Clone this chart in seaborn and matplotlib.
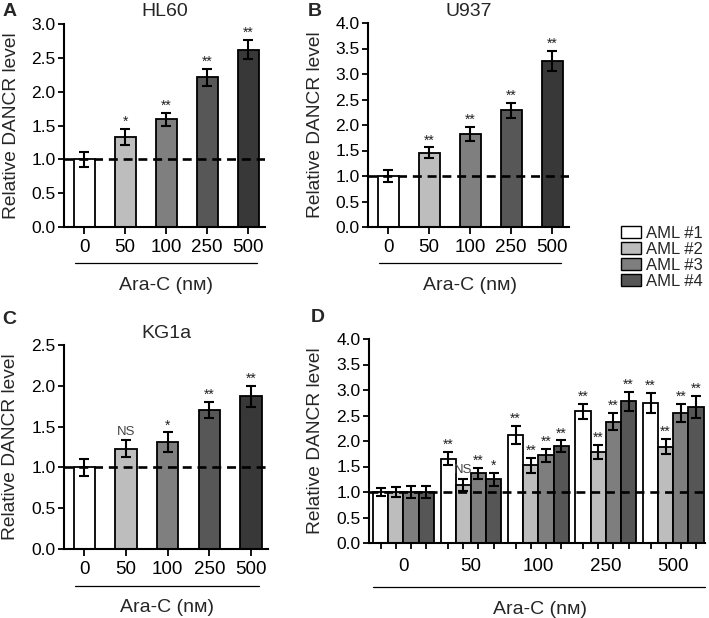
import numpy as np
import pandas as pd
import matplotlib
matplotlib.use("Agg")
import matplotlib.pyplot as plt
import seaborn as sns
from matplotlib.patches import Patch
from matplotlib.lines import Line2D

# ---------------- data ----------------
conc = ["0", "50", "100", "250", "500"]

hl60_mean = [1.00, 1.33, 1.59, 2.21, 2.62]
hl60_sd = [0.11, 0.12, 0.10, 0.13, 0.14]
hl60_sig = ["", "*", "**", "**", "**"]

u937_mean = [1.00, 1.46, 1.82, 2.29, 3.25]
u937_sd = [0.12, 0.10, 0.14, 0.15, 0.20]
u937_sig = ["", "**", "**", "**", "**"]

kg1a_mean = [1.00, 1.23, 1.31, 1.70, 1.87]
kg1a_sd = [0.10, 0.10, 0.12, 0.10, 0.13]
kg1a_sig = ["", "NS", "*", "**", "**"]

patients = ["AML #1", "AML #2", "AML #3", "AML #4"]
aml1_mean = [1.00, 1.65, 2.12, 2.58, 2.75]
aml1_sd = [0.08, 0.13, 0.17, 0.15, 0.20]
aml1_sig = ["", "**", "**", "**", "**"]
aml2_mean = [1.00, 1.14, 1.52, 1.78, 1.89]
aml2_sd = [0.10, 0.12, 0.15, 0.14, 0.15]
aml2_sig = ["", "NS", "**", "**", "**"]
aml3_mean = [1.00, 1.37, 1.72, 2.38, 2.55]
aml3_sd = [0.12, 0.11, 0.13, 0.17, 0.18]
aml3_sig = ["", "**", "**", "**", "**"]
aml4_mean = [1.00, 1.25, 1.90, 2.78, 2.67]
aml4_sd = [0.11, 0.13, 0.11, 0.19, 0.21]
aml4_sig = ["", "*", "**", "**", "**"]

bar_colors = ["#ffffff", "#bdbdbd", "#7f7f7f", "#575757", "#383838"]
aml_colors = ["#ffffff", "#bdbdbd", "#7e7e7e", "#565656"]

# ---------------- style ----------------
sns.set_style("ticks")
plt.rcParams["font.family"] = ["Liberation Sans", "DejaVu Sans"]

XTICK_FS = 13.5
YTICK_FS = 12.5
YLAB_FS = 13.8
TITLE_FS = 14
XLAB_FS = 14
LETTER_FS = 14

W, H = 709, 618
fig = plt.figure(figsize=(W / 100, H / 100), dpi=100)


def fx(px):
    return px / W


def fy(py):
    return 1 - py / H


def add_ax(left, right, top, bottom):
    return fig.add_axes([fx(left), fy(bottom), (right - left) / W, (bottom - top) / H])


def style_axis(ax, ymax):
    ax.set_ylim(0, ymax)
    ticks = np.arange(0, ymax + 0.01, 0.5)
    ax.set_yticks(ticks)
    ax.set_yticklabels([f"{v:.1f}" for v in ticks])
    for s in ["top", "right"]:
        ax.spines[s].set_visible(False)
    for s in ["left", "bottom"]:
        ax.spines[s].set_linewidth(1.5)
        ax.spines[s].set_color("black")
    ax.tick_params(axis="y", direction="out", length=4, width=1.3, labelsize=YTICK_FS,
                   pad=2, colors="black")
    ax.set_xlabel("")
    ax.set_ylabel("")
    ax.axhline(1.0, color="black", lw=1.9, dashes=(3.4, 2.2), zorder=5)


def sig_text(ax, x, top, s):
    if not s:
        return
    if s == "NS":
        ax.annotate(s, (x, top), xytext=(0, 2), textcoords="offset points",
                    ha="center", va="bottom", fontsize=9.5, color="#444444", zorder=6)
    else:
        ax.annotate(s, (x, top), xytext=(0, 0), textcoords="offset points",
                    ha="center", va="bottom", fontsize=10, color="#222222", zorder=6)


def simple_panel(box, title, means, sds, sigs, ymax, letter, letter_xy, ylab_x, under):
    left, right, top, bottom = box
    ax = add_ax(left, right, top, bottom)
    df = pd.DataFrame({"conc": conc, "mean": means})
    sns.barplot(data=df, x="conc", y="mean", hue="conc", order=conc, hue_order=conc,
                palette=bar_colors, saturation=1, width=0.51, edgecolor="black",
                linewidth=1.3, errorbar=None, legend=False, ax=ax, zorder=2)
    bars = sorted([p for p in ax.patches], key=lambda p: p.get_x())
    xs = [p.get_x() + p.get_width() / 2 for p in bars]
    ax.errorbar(xs, means, yerr=sds, fmt="none", ecolor="black", elinewidth=1.5,
                capsize=3.5, capthick=1.5, zorder=4)
    for x, m, s, g in zip(xs, means, sds, sigs):
        sig_text(ax, x, m + s, g)
    ax.set_xlim(-0.49, 4.41)
    style_axis(ax, ymax)
    ax.tick_params(axis="x", direction="out", length=5, width=1.3, labelsize=XTICK_FS, pad=4,
                   colors="black")
    ax.text(0.5, 1 + 12 / (bottom - top), title, transform=ax.transAxes, ha="center",
            va="center", fontsize=TITLE_FS)
    fig.text(fx(letter_xy[0]), fy(letter_xy[1]), letter, fontsize=LETTER_FS, fontweight="bold",
             ha="center", va="center")
    fig.text(fx(ylab_x), fy((top + bottom) / 2), "Relative DANCR level", rotation=90,
             ha="center", va="center", fontsize=YLAB_FS)
    ux0, ux1, uy, ty = under
    fig.add_artist(Line2D([fx(ux0), fx(ux1)], [fy(uy), fy(uy)], color="black", lw=0.9,
                          transform=fig.transFigure))
    fig.text(fx((ux0 + ux1) / 2), fy(ty), "Ara-C (nᴍ)", ha="center", va="center",
             fontsize=XLAB_FS)
    return ax


simple_panel((64, 265, 24, 227), "HL60", hl60_mean, hl60_sd, hl60_sig, 3.0, "A", (10, 12), 12,
             (75, 257, 263, 285))
simple_panel((368, 569, 23, 227), "U937", u937_mean, u937_sd, u937_sig, 4.0, "B", (315, 12), 316,
             (379, 561, 263, 285))
simple_panel((64, 268, 345, 549), "KG1a", kg1a_mean, kg1a_sd, kg1a_sig, 2.5, "C", (9, 320), 11,
             (75, 259, 586, 607))

# ---------------- panel D ----------------
left, right, top, bottom = 369, 705, 339, 543
axd = add_ax(left, right, top, bottom)
d_means = [aml1_mean, aml2_mean, aml3_mean, aml4_mean]
d_sds = [aml1_sd, aml2_sd, aml3_sd, aml4_sd]
d_sigs = [aml1_sig, aml2_sig, aml3_sig, aml4_sig]
rows = []
for pname, ms in zip(patients, d_means):
    for c, m in zip(conc, ms):
        rows.append({"conc": c, "patient": pname, "mean": m})
dfd = pd.DataFrame(rows)
sns.barplot(data=dfd, x="conc", y="mean", hue="patient", order=conc, hue_order=patients,
            palette=aml_colors, saturation=1, width=0.9, edgecolor="black", linewidth=1.3,
            errorbar=None, legend=False, ax=axd, zorder=2)
groups = {}
for p in axd.patches:
    cx = p.get_x() + p.get_width() / 2
    groups.setdefault(int(round(cx)), []).append(cx)
centers = {}
for g, lst in groups.items():
    for j, cx in enumerate(sorted(lst)):
        centers[(g, j)] = cx
minor_x = []
for j in range(4):
    xs = [centers[(i, j)] for i in range(len(conc))]
    minor_x += xs
    axd.errorbar(xs, d_means[j], yerr=d_sds[j], fmt="none", ecolor="black", elinewidth=1.5,
                 capsize=3.5, capthick=1.5, zorder=4)
    for x, m, s, g in zip(xs, d_means[j], d_sds[j], d_sigs[j]):
        sig_text(axd, x, m + s, g)
axd.set_xlim(-0.51, 4.47)
style_axis(axd, 4.0)
axd.set_xticks(range(len(conc)))
axd.set_xticklabels(conc)
axd.set_xticks(sorted(minor_x), minor=True)
axd.tick_params(axis="x", which="major", length=0, labelsize=XTICK_FS, pad=11, colors="black")
axd.tick_params(axis="x", which="minor", direction="out", length=4, width=1.3, colors="black")
fig.text(fx(318), fy(318), "D", fontsize=LETTER_FS, fontweight="bold", ha="center", va="center")
fig.text(fx(315), fy((top + bottom) / 2), "Relative DANCR level", rotation=90,
         ha="center", va="center", fontsize=YLAB_FS)
fig.add_artist(Line2D([fx(373), fx(705)], [fy(587), fy(587)], color="black", lw=0.9,
                      transform=fig.transFigure))
fig.text(fx(540), fy(609), "Ara-C (nᴍ)", ha="center", va="center", fontsize=XLAB_FS)

# legend
handles = [Patch(facecolor=c, edgecolor="black", linewidth=1.0) for c in aml_colors]
fig.legend(handles, patients, loc="upper left", bbox_to_anchor=(fx(621), fy(226)),
           frameon=False, fontsize=12, handlelength=1.2, handleheight=0.7,
           handletextpad=0.3, labelspacing=0.05, borderpad=0, borderaxespad=0)

fig.savefig("out.png", dpi=100)
